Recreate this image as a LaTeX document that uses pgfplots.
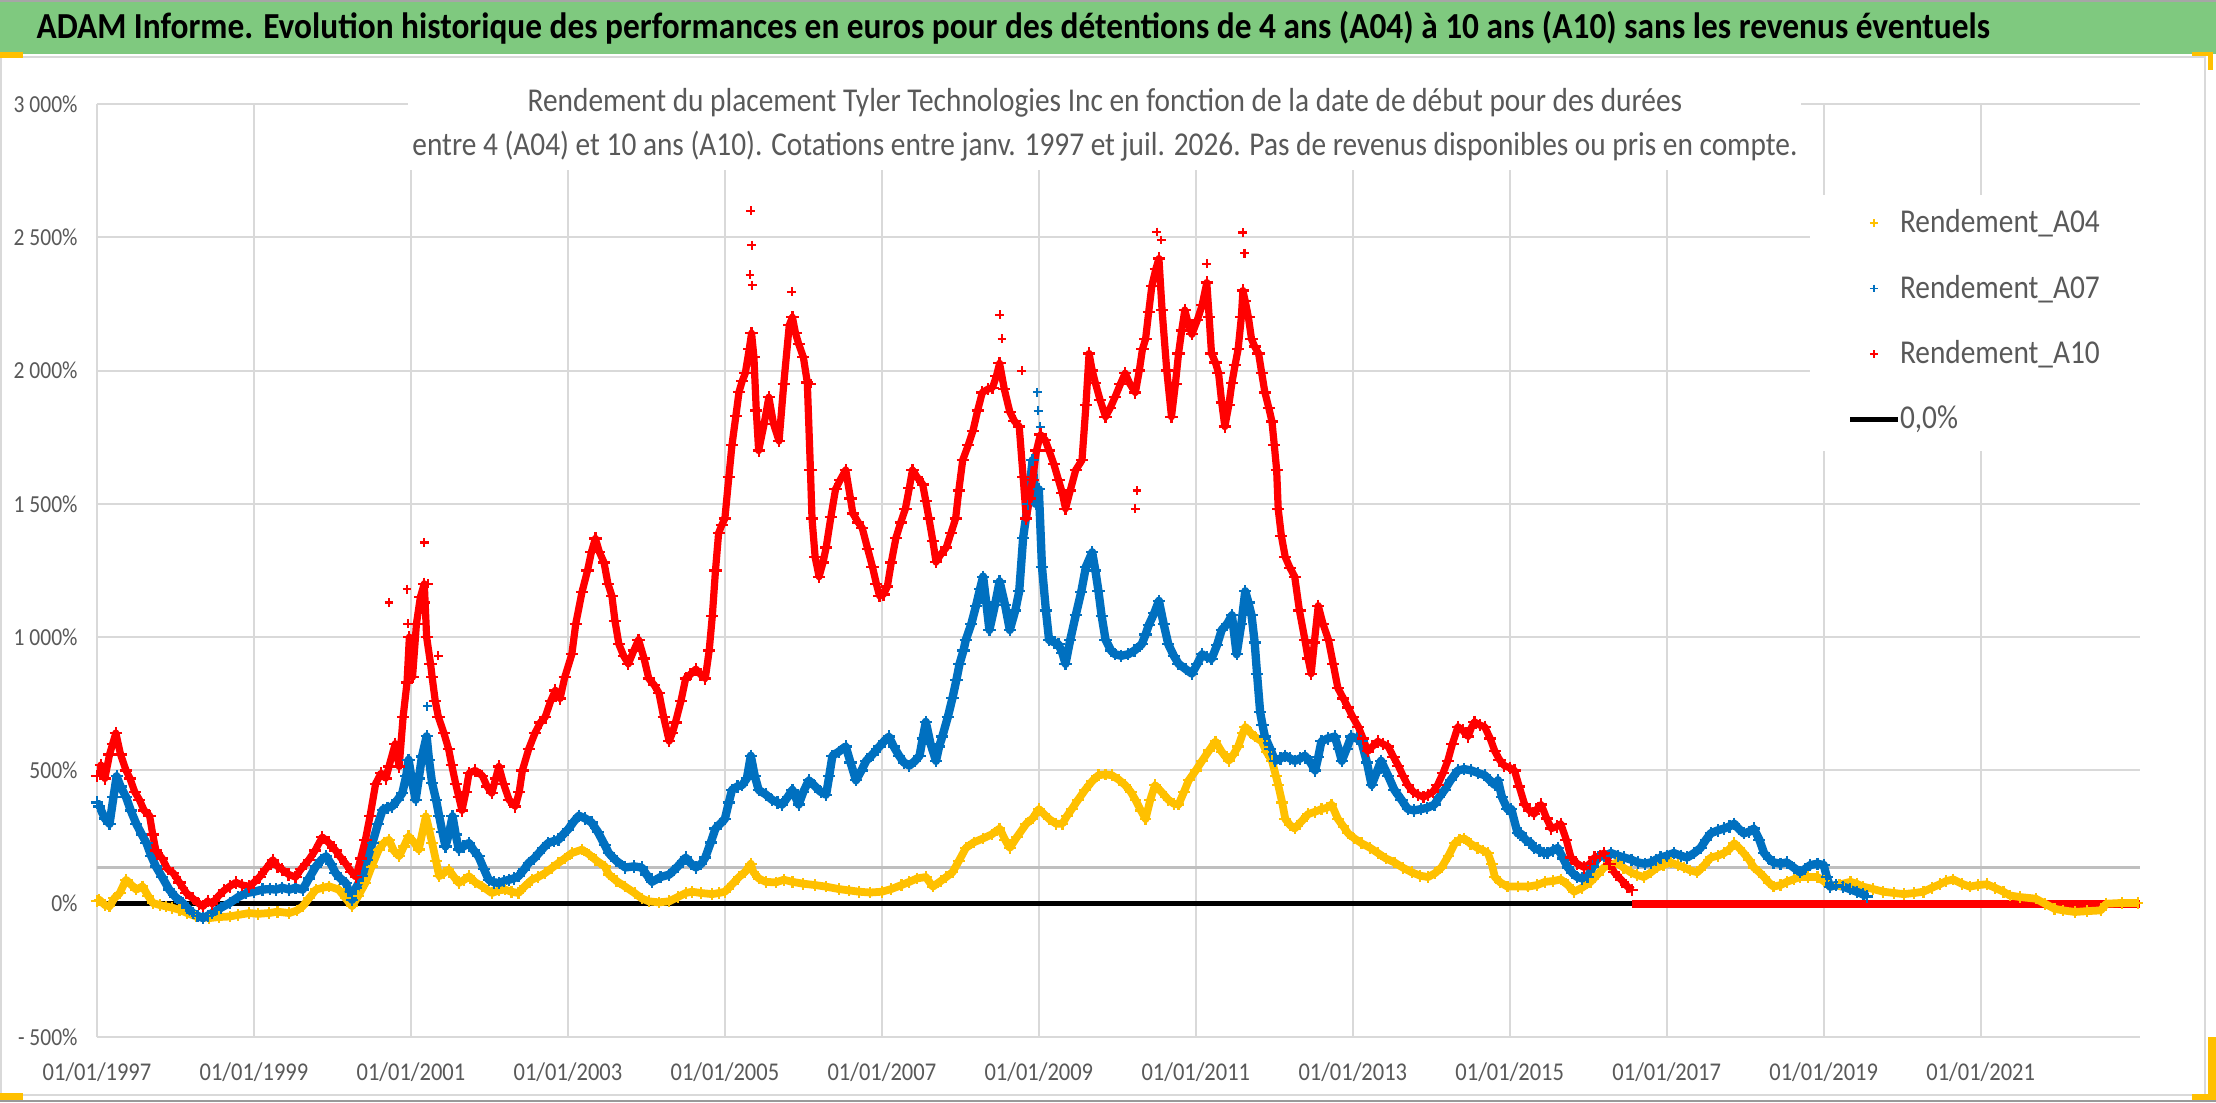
\documentclass[border=0pt]{standalone}
\usepackage{fontspec}
\setmainfont{Carlito}[FakeStretch=0.88]
\newfontfamily\titlefont{Carlito}[FakeStretch=0.91]
\usepackage{pgfplots}
\pgfplotsset{compat=1.18}
\usepackage{pgfplotstable}
\definecolor{cA}{HTML}{FFC000}
\definecolor{cB}{HTML}{0070C0}
\definecolor{cC}{HTML}{FF0000}
\definecolor{gridc}{HTML}{D9D9D9}
\definecolor{txtc}{HTML}{595959}
\definecolor{tgreen}{HTML}{7FC97F}
\definecolor{lgrey}{HTML}{BFBFBF}

\pgfplotstableread{
x y
1997.0 10
1997.03 15
1997.1 -5
1997.16 -10
1997.22 20
1997.29 40
1997.37 90
1997.44 70
1997.5 53
1997.58 65
1997.65 30
1997.71 3
1997.8 -5
1997.88 -10
1997.96 -15
1998.05 -23
1998.15 -35
1998.26 -48
1998.35 -50
1998.43 -54
1998.55 -50
1998.69 -48
1998.8 -42
1998.94 -35
1999.05 -38
1999.19 -35
1999.3 -30
1999.45 -35
1999.55 -25
1999.62 -10
1999.7 20
1999.79 53
1999.88 60
1999.96 65
2000.08 53
2000.17 20
2000.25 -10
2000.33 30
2000.42 78
2000.5 140
2000.59 203
2000.66 230
2000.72 240
2000.78 200
2000.85 178
2000.91 215
2000.97 253
2001.04 230
2001.1 203
2001.19 328
2001.23 280
2001.27 228
2001.32 160
2001.36 103
2001.42 115
2001.48 128
2001.55 100
2001.61 78
2001.68 90
2001.74 103
2001.82 80
2001.91 65
2002.03 40
2002.12 50
2002.2 53
2002.28 45
2002.37 40
2002.45 65
2002.54 90
2002.62 100
2002.71 115
2002.8 135
2002.88 153
2002.96 170
2003.05 190
2003.18 203
2003.27 185
2003.35 165
2003.47 140
2003.52 110
2003.62 85
2003.73 64
2003.85 40
2003.94 20
2004.03 9
2004.16 5
2004.29 9
2004.4 25
2004.5 40
2004.58 45
2004.7 40
2004.84 36
2004.92 40
2005.0 45
2005.1 75
2005.18 100
2005.26 120
2005.33 150
2005.36 120
2005.43 95
2005.52 82
2005.65 80
2005.75 90
2005.86 82
2006.0 75
2006.15 70
2006.29 64
2006.45 55
2006.58 50
2006.71 45
2006.85 42
2007.0 45
2007.12 55
2007.25 70
2007.35 82
2007.45 95
2007.56 100
2007.65 64
2007.75 85
2007.82 100
2007.9 118
2007.98 160
2008.07 209
2008.17 230
2008.29 245
2008.4 260
2008.5 282
2008.57 240
2008.63 209
2008.72 250
2008.84 300
2008.92 320
2009.0 355
2009.07 335
2009.13 318
2009.22 300
2009.3 300
2009.36 330
2009.42 355
2009.5 390
2009.59 427
2009.68 460
2009.76 482
2009.85 485
2009.93 482
2010.02 465
2010.1 445
2010.17 420
2010.23 390
2010.3 350
2010.36 318
2010.42 390
2010.48 445
2010.56 420
2010.65 390
2010.72 375
2010.78 372
2010.85 420
2010.91 463
2011.0 500
2011.08 536
2011.17 575
2011.25 609
2011.33 570
2011.42 536
2011.48 560
2011.54 590
2011.6 640
2011.63 664
2011.7 640
2011.75 627
2011.84 609
2011.9 570
2011.97 536
2012.02 480
2012.05 445
2012.1 380
2012.14 318
2012.2 295
2012.26 282
2012.35 310
2012.43 336
2012.52 345
2012.6 355
2012.67 360
2012.73 372
2012.81 318
2012.88 290
2012.94 264
2013.02 245
2013.11 227
2013.22 210
2013.32 190
2013.42 170
2013.53 155
2013.64 135
2013.75 118
2013.86 105
2013.96 100
2014.05 115
2014.13 136
2014.22 180
2014.3 227
2014.36 240
2014.42 245
2014.5 225
2014.59 209
2014.66 200
2014.72 190
2014.77 150
2014.81 100
2014.88 80
2014.97 64
2015.1 65
2015.23 64
2015.35 70
2015.45 82
2015.55 85
2015.65 91
2015.74 70
2015.82 45
2015.92 60
2016.03 82
2016.12 110
2016.2 136
2016.28 145
2016.37 155
2016.45 135
2016.54 118
2016.62 108
2016.71 100
2016.8 118
2016.88 136
2016.96 145
2017.05 155
2017.14 145
2017.22 136
2017.3 125
2017.39 118
2017.48 145
2017.56 173
2017.65 180
2017.73 190
2017.8 205
2017.86 227
2017.92 210
2017.98 190
2018.05 165
2018.11 136
2018.18 118
2018.24 100
2018.3 80
2018.36 64
2018.45 70
2018.53 82
2018.62 92
2018.7 100
2018.8 100
2018.92 100
2019.0 85
2019.08 64
2019.2 72
2019.34 82
2019.42 75
2019.5 64
2019.63 55
2019.76 45
2019.9 40
2020.02 36
2020.15 40
2020.27 45
2020.38 60
2020.48 73
2020.56 85
2020.65 91
2020.76 75
2020.86 64
2020.97 70
2021.08 73
2021.18 60
2021.29 45
2021.37 31
2021.5 25
2021.7 19
2021.82 0
2021.94 -19
2022.05 -25
2022.2 -31
2022.35 -28
2022.53 -25
2022.6 0
2022.8 3
2023.0 3
}\tA

\pgfplotstableread{
x y
1997.0 380
1997.03 365
1997.1 320
1997.16 300
1997.21 400
1997.25 478
1997.3 440
1997.37 400
1997.43 350
1997.5 300
1997.57 260
1997.63 228
1997.69 180
1997.75 140
1997.83 100
1997.92 53
1998.0 25
1998.09 3
1998.15 -15
1998.22 -35
1998.28 -45
1998.35 -54
1998.41 -45
1998.47 -35
1998.58 -15
1998.69 3
1998.8 25
1998.9 40
1999.0 45
1999.11 53
1999.2 55
1999.28 53
1999.36 60
1999.45 53
1999.53 60
1999.62 53
1999.7 95
1999.79 140
1999.86 165
1999.92 178
1999.98 150
2000.04 115
2000.1 95
2000.17 78
2000.25 15
2000.3 60
2000.38 103
2000.44 165
2000.51 228
2000.58 300
2000.64 353
2000.7 360
2000.76 365
2000.83 390
2000.89 415
2000.94 480
2000.97 540
2001.02 450
2001.06 390
2001.1 470
2001.14 552
2001.2 628
2001.23 540
2001.27 452
2001.32 390
2001.36 328
2001.4 270
2001.44 215
2001.49 270
2001.53 328
2001.57 260
2001.61 203
2001.67 215
2001.74 228
2001.8 200
2001.86 178
2001.93 130
2001.99 90
2002.06 80
2002.12 78
2002.19 85
2002.25 90
2002.31 95
2002.37 103
2002.44 128
2002.5 153
2002.57 170
2002.63 190
2002.69 210
2002.75 228
2002.82 235
2002.88 240
2002.94 260
2003.0 278
2003.08 310
2003.14 330
2003.22 320
2003.3 305
2003.38 270
2003.47 220
2003.52 190
2003.62 160
2003.73 136
2003.84 140
2003.94 136
2004.0 110
2004.07 82
2004.18 100
2004.29 109
2004.4 140
2004.5 173
2004.57 150
2004.63 136
2004.7 150
2004.75 173
2004.82 230
2004.88 282
2004.94 300
2005.0 318
2005.05 380
2005.09 427
2005.16 440
2005.22 445
2005.28 470
2005.33 555
2005.38 480
2005.43 427
2005.52 410
2005.6 390
2005.67 380
2005.73 372
2005.8 400
2005.86 427
2005.9 400
2005.94 372
2006.0 420
2006.07 463
2006.15 440
2006.22 420
2006.29 409
2006.33 480
2006.37 555
2006.45 570
2006.54 590
2006.6 530
2006.67 463
2006.74 500
2006.8 536
2006.88 560
2006.97 590
2007.03 610
2007.09 627
2007.15 590
2007.22 555
2007.28 530
2007.35 518
2007.42 535
2007.48 555
2007.52 620
2007.56 682
2007.62 600
2007.69 536
2007.73 590
2007.77 627
2007.84 700
2007.9 772
2007.95 840
2007.99 900
2008.04 950
2008.07 990
2008.14 1050
2008.2 1118
2008.25 1180
2008.29 1227
2008.33 1130
2008.37 1027
2008.44 1120
2008.5 1209
2008.57 1120
2008.63 1027
2008.7 1100
2008.75 1172
2008.8 1373
2008.86 1500
2008.92 1664
2008.96 1500
2009.0 1555
2009.04 1264
2009.09 1100
2009.13 990
2009.2 980
2009.25 973
2009.3 940
2009.34 900
2009.4 990
2009.47 1082
2009.54 1170
2009.6 1264
2009.68 1318
2009.72 1250
2009.76 1172
2009.8 1080
2009.85 990
2009.92 950
2009.97 936
2010.05 930
2010.14 936
2010.22 950
2010.31 973
2010.36 1010
2010.4 1045
2010.47 1090
2010.53 1136
2010.59 1050
2010.65 973
2010.72 930
2010.78 900
2010.87 880
2010.95 863
2011.02 900
2011.08 936
2011.14 925
2011.2 918
2011.27 970
2011.33 1027
2011.4 1050
2011.46 1082
2011.52 936
2011.58 1050
2011.63 1172
2011.67 1130
2011.71 1082
2011.75 980
2011.78 863
2011.82 718
2011.85 670
2011.88 627
2011.95 580
2012.01 536
2012.08 545
2012.14 555
2012.2 545
2012.26 536
2012.33 545
2012.39 555
2012.46 530
2012.52 500
2012.56 550
2012.6 609
2012.68 620
2012.77 627
2012.82 580
2012.86 536
2012.92 580
2012.98 627
2013.05 620
2013.11 609
2013.18 530
2013.24 445
2013.3 490
2013.36 536
2013.45 480
2013.53 427
2013.62 390
2013.7 355
2013.78 350
2013.87 355
2013.95 360
2014.04 372
2014.1 400
2014.17 427
2014.25 465
2014.34 500
2014.42 505
2014.51 500
2014.6 490
2014.68 482
2014.74 465
2014.81 445
2014.85 463
2014.9 400
2014.97 355
2015.02 355
2015.1 264
2015.14 264
2015.2 240
2015.27 227
2015.31 209
2015.38 200
2015.44 190
2015.48 190
2015.55 200
2015.61 209
2015.68 170
2015.74 136
2015.8 115
2015.86 100
2015.92 95
2015.99 100
2016.06 140
2016.12 173
2016.2 180
2016.29 190
2016.38 180
2016.46 173
2016.55 165
2016.63 155
2016.72 150
2016.8 155
2016.86 165
2016.92 173
2017.0 180
2017.09 190
2017.18 180
2017.26 173
2017.35 190
2017.43 209
2017.5 240
2017.56 264
2017.65 275
2017.73 282
2017.8 290
2017.86 300
2017.92 280
2017.98 264
2018.05 270
2018.11 282
2018.18 240
2018.24 190
2018.3 170
2018.36 155
2018.45 150
2018.53 155
2018.62 135
2018.7 118
2018.76 130
2018.83 145
2018.92 150
2019.0 145
2019.04 100
2019.08 64
2019.16 70
2019.25 64
2019.33 55
2019.42 45
2019.5 35
2019.55 27
}\tB

\pgfplotstableread{
x y
1997.0 480
1997.05 520
1997.1 470
1997.16 560
1997.2 600
1997.24 640
1997.3 560
1997.37 500
1997.42 470
1997.48 420
1997.54 390
1997.6 350
1997.67 330
1997.71 260
1997.75 200
1997.83 170
1997.9 130
1997.97 115
1998.05 80
1998.14 40
1998.22 20
1998.3 0
1998.35 -10
1998.41 10
1998.47 0
1998.55 30
1998.62 50
1998.69 65
1998.77 80
1998.85 70
1998.94 65
1999.0 80
1999.07 100
1999.15 130
1999.24 165
1999.3 140
1999.36 128
1999.44 110
1999.53 100
1999.6 130
1999.7 165
1999.78 200
1999.87 250
1999.95 230
2000.04 200
2000.1 175
2000.17 150
2000.24 120
2000.3 100
2000.36 170
2000.42 240
2000.48 330
2000.55 450
2000.62 490
2000.68 470
2000.72 515
2000.8 600
2000.85 515
2000.9 700
2000.95 830
2000.98 1000
2001.02 850
2001.07 1050
2001.12 1150
2001.17 1200
2001.2 1000
2001.25 900
2001.27 850
2001.31 760
2001.35 700
2001.42 640
2001.48 580
2001.52 520
2001.57 450
2001.61 400
2001.65 350
2001.7 420
2001.74 490
2001.82 500
2001.91 480
2001.97 440
2002.03 415
2002.08 470
2002.12 515
2002.18 450
2002.25 390
2002.33 365
2002.38 420
2002.42 500
2002.5 580
2002.58 640
2002.65 680
2002.71 700
2002.78 760
2002.84 800
2002.9 770
2002.96 850
2003.05 936
2003.1 1050
2003.18 1170
2003.25 1250
2003.3 1320
2003.35 1370
2003.4 1320
2003.46 1280
2003.51 1200
2003.56 1155
2003.6 1060
2003.65 973
2003.71 930
2003.77 900
2003.84 950
2003.9 990
2003.97 920
2004.03 845
2004.1 820
2004.16 790
2004.22 700
2004.29 610
2004.33 640
2004.37 680
2004.44 760
2004.5 845
2004.56 860
2004.63 880
2004.69 860
2004.75 845
2004.8 950
2004.84 1080
2004.88 1250
2004.92 1390
2004.96 1420
2005.0 1445
2005.05 1600
2005.09 1720
2005.14 1830
2005.18 1920
2005.22 1960
2005.26 1990
2005.31 2080
2005.34 2140
2005.37 2050
2005.4 1850
2005.43 1700
2005.5 1800
2005.56 1900
2005.62 1800
2005.69 1736
2005.75 1950
2005.82 2170
2005.86 2200
2005.9 2140
2005.94 2100
2006.0 2050
2006.05 1955
2006.09 1627
2006.11 1445
2006.15 1300
2006.2 1227
2006.25 1280
2006.29 1336
2006.35 1450
2006.41 1555
2006.47 1590
2006.54 1627
2006.6 1520
2006.63 1464
2006.7 1430
2006.75 1409
2006.82 1330
2006.88 1264
2006.93 1200
2006.97 1155
2007.02 1160
2007.07 1190
2007.12 1280
2007.18 1373
2007.24 1430
2007.3 1482
2007.35 1560
2007.39 1627
2007.45 1600
2007.52 1573
2007.56 1510
2007.6 1445
2007.65 1360
2007.69 1282
2007.75 1310
2007.82 1336
2007.88 1390
2007.94 1445
2007.98 1550
2008.03 1664
2008.1 1720
2008.16 1773
2008.22 1850
2008.28 1918
2008.35 1930
2008.41 1936
2008.46 1980
2008.5 2027
2008.56 1930
2008.63 1845
2008.69 1810
2008.75 1790
2008.8 1600
2008.84 1445
2008.88 1520
2008.92 1590
2008.97 1700
2009.02 1760
2009.08 1740
2009.13 1700
2009.19 1650
2009.25 1590
2009.3 1540
2009.34 1482
2009.4 1550
2009.47 1627
2009.55 1664
2009.6 1870
2009.64 2064
2009.68 2000
2009.72 1954
2009.78 1890
2009.85 1827
2009.91 1860
2009.97 1900
2010.04 1950
2010.1 1990
2010.16 1950
2010.23 1918
2010.28 2000
2010.32 2080
2010.36 2118
2010.4 2220
2010.44 2318
2010.49 2380
2010.53 2420
2010.57 2227
2010.63 2000
2010.69 1827
2010.74 1950
2010.78 2064
2010.82 2150
2010.86 2227
2010.9 2180
2010.95 2136
2011.02 2190
2011.08 2245
2011.14 2330
2011.17 2200
2011.2 2064
2011.25 2030
2011.29 1990
2011.33 1880
2011.37 1790
2011.42 1870
2011.46 1954
2011.5 2020
2011.54 2082
2011.58 2200
2011.6 2300
2011.63 2260
2011.67 2200
2011.71 2118
2011.75 2090
2011.8 2064
2011.84 1990
2011.88 1918
2011.93 1860
2011.97 1809
2012.0 1720
2012.03 1627
2012.05 1480
2012.09 1380
2012.14 1300
2012.2 1260
2012.26 1227
2012.32 1100
2012.39 990
2012.43 920
2012.47 863
2012.51 980
2012.56 1118
2012.62 1050
2012.69 990
2012.75 900
2012.81 809
2012.88 770
2012.94 736
2013.0 700
2013.07 664
2013.13 620
2013.19 572
2013.25 590
2013.32 609
2013.38 600
2013.45 590
2013.52 550
2013.58 518
2013.64 480
2013.7 445
2013.77 420
2013.83 409
2013.9 400
2013.96 409
2014.02 420
2014.08 445
2014.15 490
2014.21 536
2014.27 600
2014.34 664
2014.4 650
2014.47 627
2014.51 660
2014.55 682
2014.62 670
2014.68 664
2014.75 620
2014.81 572
2014.87 540
2014.93 518
2015.0 510
2015.06 500
2015.12 440
2015.19 372
2015.25 350
2015.31 336
2015.36 360
2015.4 372
2015.47 320
2015.53 282
2015.6 290
2015.65 300
2015.72 240
2015.78 173
2015.86 150
2015.95 136
2016.02 150
2016.08 173
2016.15 180
2016.2 190
2016.27 150
2016.33 118
2016.42 90
2016.5 64
2016.56 50
}\tC

\pgfplotstableread{
x y
2000.72 1130
2000.95 1180
2000.96 1050
2001.17 1355
2001.18 1130
2001.22 1200
2001.35 930
2005.33 2600
2005.34 2470
2005.32 2360
2005.35 2320
2005.85 2295
2006.1 1950
2008.5 2210
2008.53 2120
2008.78 2000
2010.50 2520
2010.56 2490
2011.14 2400
2011.60 2518
2011.62 2440
2010.23 1482
2010.25 1550
}\tCx

\pgfplotstableread{
x y
2008.98 1918
2008.99 1850
2009.02 1790
2001.21 740
}\tBx

\begin{document}
\begin{tikzpicture}
\path[use as bounding box, fill=white] (0pt,0pt) rectangle (797.76pt,396.72pt);
\begin{scope}[shift={(0pt,396.72pt)}, x=0.36pt, y=-0.36pt]
  \fill[tgreen] (0,0) rectangle (2216,54);
  \draw[gray!70, line width=0.8pt] (0,0.5) -- (2216,0.5);
  \draw[gridc, line width=0.8pt] (1,57) rectangle (2205,1095);
  \draw[gray!80, line width=0.8pt] (0,1101) -- (2216,1101);
\end{scope}
\begin{axis}[
  at={(34.92pt,23.4pt)}, anchor=south west,
  scale only axis, width=735.48pt, height=335.88pt,
  xmin=1997, xmax=2023.03, ymin=-500, ymax=3000,
  axis line style={draw=none},
  major tick length=0pt,
  grid=major,
  major grid style={gridc, line width=0.75pt},
  xtick={1997,1999,...,2021},
  xticklabels={01/01/1997,01/01/1999,01/01/2001,01/01/2003,01/01/2005,01/01/2007,01/01/2009,01/01/2011,01/01/2013,01/01/2015,01/01/2017,01/01/2019,01/01/2021},
  ytick={-500,0,500,1000,1500,2000,2500,3000},
  yticklabels={- 500\%,0\%,500\%,1 000\%,1 500\%,2 000\%,2 500\%,3 000\%},
  xticklabel style={anchor=base, inner sep=0pt, yshift=-15.5pt, font=\fontsize{9.2pt}{10pt}\selectfont, text=txtc},
  yticklabel style={anchor=east, inner sep=0pt, xshift=-6.8pt, font=\fontsize{8.8pt}{10pt}\selectfont, text=txtc},
  legend style={at={(0.8566,0.7674)}, anchor=west, draw=none, fill=none, inner sep=0pt,
    row sep=13.7pt, font=\fontsize{12pt}{14pt}\selectfont, text=txtc,
    nodes={inner sep=0pt, anchor=west},
    /tikz/every even column/.append style={column sep=2pt}},
  legend cell align=left,
  legend image post style={mark size=1.4pt, mark options={line width=0.5pt}},
]
\addplot[forget plot, black, line width=1.8pt] coordinates {(1997,0) (2023.03,0)};
\addplot[forget plot, lgrey, line width=1pt] coordinates {(1997,135) (2023.03,135)};
\addplot[forget plot, cC, line width=2.8pt] coordinates {(2016.56,0) (2023.03,0)};
\addplot[forget plot, cA, line width=2.8pt, line join=round] table {\tA};
\addplot[only marks, mark=+, cA, mark size=2.1pt, mark options={line width=0.8pt}] table {\tA};
\addlegendentry{Rendement\_A04}
\addplot[forget plot, cB, line width=3pt, line join=round] table {\tB};
\addplot[forget plot, only marks, mark=+, cB, mark size=1.6pt, mark options={line width=0.75pt}] table {\tBx};
\addplot[only marks, mark=+, cB, mark size=2.2pt, mark options={line width=0.8pt}] table {\tB};
\addlegendentry{Rendement\_A07}
\addplot[forget plot, cC, line width=2.6pt, line join=round] table {\tC};
\addplot[forget plot, only marks, mark=+, cC, mark size=1.6pt, mark options={line width=0.75pt}] table {\tCx};
\addplot[only marks, mark=+, cC, mark size=2.2pt, mark options={line width=0.8pt}] table {\tC};
\addlegendentry{Rendement\_A10}
\addlegendimage{black, line width=1.8pt}
\addlegendentry{0,0\%}
\fill[white] (axis cs:2018.82,1700) rectangle (axis cs:2023.03,2660);
\end{axis}
\begin{scope}[shift={(0pt,396.72pt)}, x=0.36pt, y=-0.36pt]
  \fill[white] (408,96) rectangle (1801,170);
  \node[anchor=base west, inner sep=0pt, font=\titlefont\fontsize{13.2pt}{15pt}\selectfont\bfseries] at (36,39) {ADAM Informe. Evolution historique des performances en euros pour des détentions de 4 ans (A04) à 10 ans (A10) sans les revenus éventuels};
  \node[anchor=base, inner sep=0pt, font=\fontsize{12pt}{14pt}\selectfont, text=txtc] at (1105,112) {Rendement du placement Tyler Technologies Inc en fonction de la date de début pour des durées};
  \node[anchor=base, inner sep=0pt, font=\fontsize{12pt}{14pt}\selectfont, text=txtc] at (1105,156) {entre 4 (A04) et 10 ans (A10). Cotations entre janv. 1997 et juil. 2026. Pas de revenus disponibles ou pris en compte.};
  \fill[cA] (0,52) rectangle (23,58);
  \fill[cA] (0,1093) rectangle (23,1100);
  \fill[cA] (2192,52) rectangle (2213,56);
  \fill[cA] (2208,52) rectangle (2213,70);
  \fill[cA] (2192,1094) rectangle (2216,1100);
  \fill[cA] (2208,1037) rectangle (2216,1100);
\end{scope}
\end{tikzpicture}
\end{document}
